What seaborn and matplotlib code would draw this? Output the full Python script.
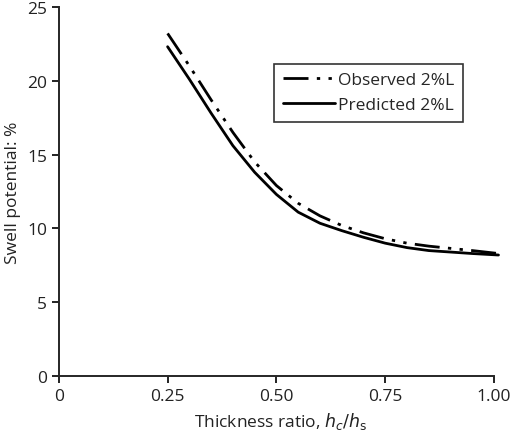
import matplotlib
matplotlib.use("Agg")
import matplotlib.pyplot as plt
import seaborn as sns

x_obs = [0.25, 0.30, 0.35, 0.40, 0.45, 0.50, 0.55, 0.60, 0.65, 0.70, 0.75, 0.80, 0.85, 0.90, 0.95, 1.01]
y_obs = [23.2, 21.0, 18.7, 16.5, 14.5, 12.9, 11.7, 10.85, 10.2, 9.7, 9.3, 9.0, 8.8, 8.65, 8.5, 8.3]
x_pre = [0.25, 0.30, 0.35, 0.40, 0.45, 0.50, 0.55, 0.60, 0.65, 0.70, 0.75, 0.80, 0.85, 0.90, 0.95, 1.01]
y_pre = [22.3, 20.1, 17.8, 15.6, 13.8, 12.3, 11.1, 10.35, 9.85, 9.4, 9.0, 8.7, 8.5, 8.4, 8.3, 8.2]

sns.set_style("ticks")
plt.rcParams['font.family'] = ['Open Sans', 'DejaVu Sans']
fig = plt.figure(figsize=(5.2, 4.35), dpi=100)
ax = fig.add_axes([0.113, 0.133, 0.854, 0.849])
sns.lineplot(x=x_obs, y=y_obs, ax=ax, color='black', lw=2, label='Observed 2%L',
             linestyle=(0, (9, 3, 1.2, 3, 1.2, 3)))
sns.lineplot(x=x_pre, y=y_pre, ax=ax, color='black', lw=2, label='Predicted 2%L')
ax.set_xlim(0, 1.02)
ax.set_ylim(0, 25)
ax.spines['right'].set_visible(False)
ax.spines['top'].set_visible(False)
ax.spines['bottom'].set_bounds(0, 1.0)
for s in ['left', 'bottom']:
    ax.spines[s].set_linewidth(1.4)
ax.set_xticks([0, 0.25, 0.5, 0.75, 1.0])
ax.set_xticklabels(['0', '0.25', '0.50', '0.75', '1.00'])
ax.set_yticks([0, 5, 10, 15, 20, 25])
ax.tick_params(direction='out', length=5, width=1.4, labelsize=12.5, colors='#222222')
ax.set_xlabel('Thickness ratio, $\\it{h}_{\\it{c}}/\\it{h}_{\\rm{s}}$', fontsize=12.5, color='#222222')
ax.set_ylabel('Swell potential: %', fontsize=12.5, color='#222222')
leg = ax.legend(loc='upper right', bbox_to_anchor=(0.93, 0.87), frameon=True, fancybox=False,
                edgecolor='black', fontsize=12.5, handlelength=3.0, handletextpad=0.2,
                borderpad=0.5)
leg.get_frame().set_linewidth(1.2)
fig.savefig('out.png', dpi=100)
